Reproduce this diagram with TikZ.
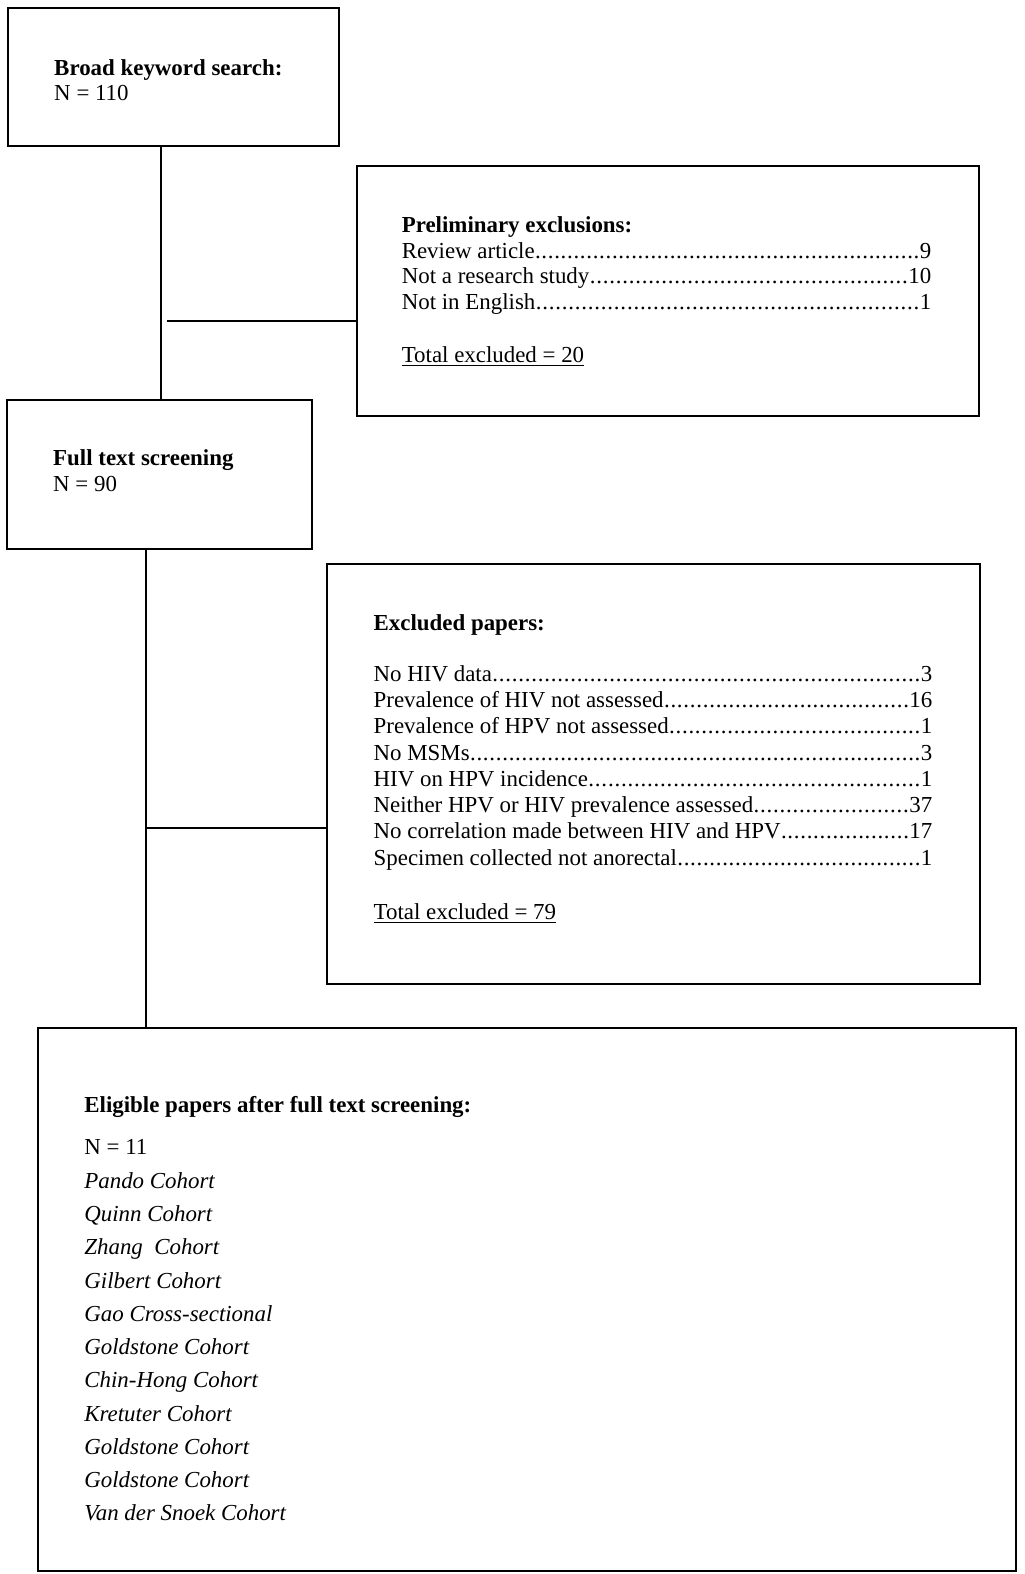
\documentclass[tikz,border=0pt]{standalone}
\usepackage{fontspec}
\setmainfont{Liberation Serif}
\newcommand{\mydots}{\xleaders\hbox to 0.28em{\hss.\hss}\hfill}
\newcommand{\lrow}[3]{\hbox to #3{#1\mydots#2}}
\begin{document}
\begin{tikzpicture}[x=0.50225pt,y=-0.50225pt,
  box/.style={draw=black,line width=1pt,inner sep=0pt,outer sep=0pt,anchor=north west},
  txt/.style={anchor=base west,inner sep=0pt,outer sep=0pt,font=\fontsize{11.45}{13}\selectfont},
  conn/.style={line width=1pt}]
\useasboundingbox (0pt,0pt) rectangle (512pt,-787pt);
% boxes
\node[box,minimum width=165.7pt,minimum height=68.8pt] (b1) at (8,8) {};
\node[box,minimum width=311.4pt,minimum height=125.1pt] (b2) at (355,165) {};
\node[box,minimum width=152.7pt,minimum height=74.8pt] (b3) at (7,398) {};
\node[box,minimum width=326.5pt,minimum height=210.4pt] (b4) at (326,561) {};
\node[box,minimum width=488.7pt,minimum height=271.7pt] (b5) at (38,1023) {};
% box 1
\node[txt] (t1a) at (54,75) {\textbf{Broad keyword search:}};
\node[txt] (t1b) at (54,100) {N = 110};
% box 2
\node[txt] (t2a) at (400,231) {\textbf{Preliminary exclusions:}};
\node[txt] (t2b) at (400,257) {\lrow{Review article}{9}{264.7pt}};
\node[txt] (t2c) at (400,282.5) {\lrow{Not a research study}{10}{264.7pt}};
\node[txt] (t2d) at (400,308) {\lrow{Not in English}{1}{264.7pt}};
\node[txt] (t2e) at (400,361) {\underline{Total excluded = 20}};
% box 3
\node[txt] (t3a) at (53,463) {\textbf{Full text screening}};
\node[txt] (t3b) at (53,489) {N = 90};
% box 4
\node[txt] (t4a) at (372,628) {\textbf{Excluded papers:}};
\node[txt] (t4b) at (372,678) {\lrow{No HIV data}{3}{279.3pt}};
\node[txt] (t4c) at (372,704.2) {\lrow{Prevalence of HIV not assessed}{16}{279.3pt}};
\node[txt] (t4d) at (372,730.4) {\lrow{Prevalence of HPV not assessed}{1}{279.3pt}};
\node[txt] (t4e) at (372,756.6) {\lrow{No MSMs}{3}{279.3pt}};
\node[txt] (t4f) at (372,782.8) {\lrow{HIV on HPV incidence}{1}{279.3pt}};
\node[txt] (t4g) at (372,809) {\lrow{Neither HPV or HIV prevalence assessed}{37}{279.3pt}};
\node[txt] (t4h) at (372,835.2) {\lrow{No correlation made between HIV and HPV}{17}{279.3pt}};
\node[txt] (t4i) at (372,861.4) {\lrow{Specimen collected not anorectal}{1}{279.3pt}};
\node[txt] (t4j) at (372,915) {\underline{Total excluded = 79}};
% box 5
\node[txt] (t5a) at (84,1108) {\textbf{Eligible papers after full text screening:}};
\node[txt] (t5b) at (84,1149) {N = 11};
\foreach \name [count=\i from 0] in {Pando Cohort,Quinn Cohort,Zhang\ \ Cohort,Gilbert Cohort,Gao Cross-sectional,Goldstone Cohort,Chin-Hong Cohort,Kretuter Cohort,Goldstone Cohort,Goldstone Cohort,Van der Snoek Cohort}
  \node[txt] (e\i) at (84,{1183+33.1*\i}) {\textit{\name}};
% connectors
\coordinate (v1) at (160,0);
\coordinate (h1) at (166,320);
\coordinate (v2) at (145,0);
\coordinate (h2) at (145,824);
\draw[conn] (v1 |- b1.south) -- (v1 |- b3.north);
\draw[conn] (h1) -- (h1 -| b2.west);
\draw[conn] (v2 |- b3.south) -- (v2 |- b5.north);
\draw[conn] (h2) -- (h2 -| b4.west);
\end{tikzpicture}
\end{document}
